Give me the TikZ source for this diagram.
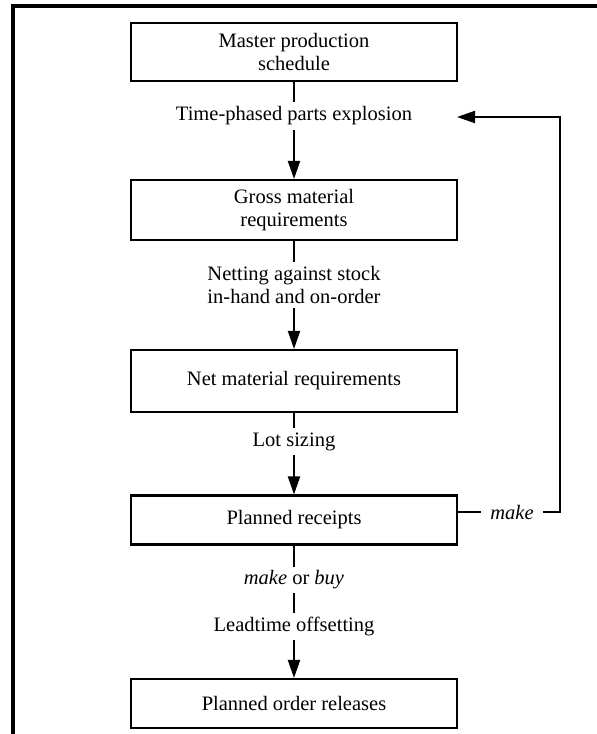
\documentclass[tikz,border=0pt]{standalone}
\usepackage{fontspec}
\setmainfont{Liberation Serif}
\usetikzlibrary{arrows.meta}
\begin{document}
\begin{tikzpicture}[x=1pt,y=-1pt,
  box/.style={draw, line width=2.1pt, minimum width=326pt, inner sep=0pt, align=center, font=\fontsize{20.5}{22.5}\selectfont},
  lbl/.style={inner sep=0pt, align=center, font=\fontsize{20.5}{22.5}\selectfont},
  conn/.style={line width=2pt},
  arr/.style={line width=2pt, -{Triangle[length=18pt,width=12pt]}}]
\useasboundingbox (0,0) rectangle (597,734);
\draw[line width=3.5pt] (13,734) -- (13,6) -- (597,6);
\node[box, minimum height=58pt] (b1) at (294,52) {Master production\\schedule};
\node[lbl, minimum height=28pt] (l1) at (294,116) {Time-phased parts explosion};
\node[box, minimum height=60pt] (b2) at (294,210) {Gross material\\requirements};
\node[lbl, minimum height=46pt] (l2) at (294,285) {Netting against stock\\in-hand and on-order};
\node[box, minimum height=62pt] (b3) at (294,381) {Net material requirements};
\node[lbl, minimum height=27pt] (l3) at (294,441.5) {Lot sizing};
\node[box, minimum height=49pt] (b4) at (294,520) {Planned receipts};
\node[lbl, minimum height=26pt] (l4) at (294,580) {\textit{make} or \textit{buy}};
\node[lbl, minimum height=27pt] (l5) at (294,626.5) {Leadtime offsetting};
\node[box, minimum height=49pt] (b5) at (294,703.5) {Planned order releases};
\node[lbl, inner xsep=9pt] (mk) at (512,512) {\textit{make}};
\coordinate (c1) at (560,512);
\coordinate (c2) at (560,117);
\coordinate (tip) at (457,117);
\draw[conn] (b1.south) -- (l1.north);
\draw[arr] (l1.south) -- (b2.north);
\draw[conn] (b2.south) -- (l2.north);
\draw[arr] (l2.south) -- (b3.north);
\draw[conn] (b3.south) -- (l3.north);
\draw[arr] (l3.south) -- (b4.north);
\draw[conn] (b4.south) -- (l4.north);
\draw[conn] (l4.south) -- (l5.north);
\draw[arr] (l5.south) -- (b5.north);
\draw[conn] (b4.east |- mk.west) -- (mk.west);
\draw[arr] (mk.east) -- (c1) -- (c2) -- (tip);
\end{tikzpicture}
\end{document}
